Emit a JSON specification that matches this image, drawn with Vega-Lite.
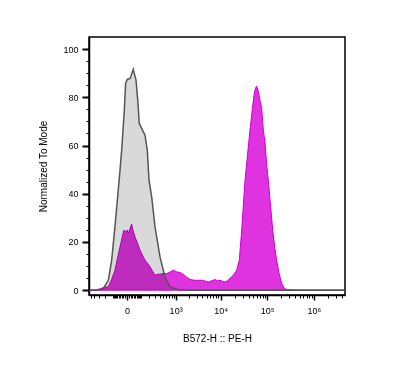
{
  "$schema": "https://vega.github.io/schema/vega-lite/v6.json",
  "width": 256,
  "height": 258,
  "autosize": {"type": "none"},
  "padding": {"left": 89, "top": 37, "right": 51, "bottom": 96},
  "background": "white",
  "config": {
    "view": {"stroke": "black", "strokeWidth": 1.5},
    "axis": {"labelFont": "Liberation Sans", "titleFont": "Liberation Sans", "labelColor": "black", "titleColor": "black", "tickColor": "black", "domainColor": "black", "grid": false, "titleFontWeight": "normal"}
  },
  "datasets": {
    "control": [
      {"x": -548, "v": 0}, {"x": -318, "v": 0.2}, {"x": -226, "v": 0.5}, {"x": -151, "v": 4.1}, {"x": -113, "v": 12.4},
      {"x": -81, "v": 26.3}, {"x": -54, "v": 41.5}, {"x": -41, "v": 49.8}, {"x": -30, "v": 58.1}, {"x": -14, "v": 74.7},
      {"x": -7, "v": 85.8}, {"x": 1.5, "v": 87.4}, {"x": 16, "v": 87.8}, {"x": 22, "v": 88.8}, {"x": 36, "v": 91.6},
      {"x": 56, "v": 87.1}, {"x": 70, "v": 78.8}, {"x": 83, "v": 69.2}, {"x": 106, "v": 67.1}, {"x": 143, "v": 64.3},
      {"x": 172, "v": 58.1}, {"x": 196, "v": 45.6}, {"x": 238, "v": 38.7}, {"x": 298, "v": 26.3}, {"x": 409, "v": 13.8},
      {"x": 551, "v": 5.5}, {"x": 733, "v": 1.4}, {"x": 1137, "v": 0.3}, {"x": 2135, "v": 0}, {"x": 4600000, "v": 0}
    ],
    "sample": [
      {"x": -548, "v": 0}, {"x": -385, "v": 0.1}, {"x": -279, "v": 0.5}, {"x": -211, "v": 1.2}, {"x": -151, "v": 1.4},
      {"x": -113, "v": 4.5}, {"x": -81, "v": 8.3}, {"x": -60, "v": 13.3}, {"x": -41, "v": 18}, {"x": -17, "v": 24.9},
      {"x": -10, "v": 24.2}, {"x": 1.5, "v": 24.9}, {"x": 6.6, "v": 23.5}, {"x": 26, "v": 27.4}, {"x": 34, "v": 24.9},
      {"x": 48, "v": 22.1}, {"x": 68, "v": 19.5}, {"x": 90, "v": 16.6}, {"x": 115, "v": 14.5}, {"x": 143, "v": 12.4},
      {"x": 175, "v": 11.2}, {"x": 211, "v": 9.7}, {"x": 252, "v": 7.9}, {"x": 298, "v": 6.2}, {"x": 350, "v": 6.6},
      {"x": 409, "v": 6.6}, {"x": 490, "v": 6.9}, {"x": 608, "v": 6.9}, {"x": 733, "v": 7.5}, {"x": 881, "v": 8.3},
      {"x": 1060, "v": 7.6}, {"x": 1264, "v": 7.3}, {"x": 1505, "v": 6.6}, {"x": 1799, "v": 5.4}, {"x": 2135, "v": 4.4},
      {"x": 2760, "v": 4.1}, {"x": 3560, "v": 4.1}, {"x": 4205, "v": 4.1}, {"x": 4700, "v": 3.7}, {"x": 5410, "v": 3.4},
      {"x": 6410, "v": 3.9}, {"x": 7560, "v": 4.4}, {"x": 8570, "v": 3.9}, {"x": 9710, "v": 4.1}, {"x": 10990, "v": 3.7},
      {"x": 12450, "v": 3.4}, {"x": 14100, "v": 3.9}, {"x": 15960, "v": 4.9}, {"x": 18800, "v": 6.2}, {"x": 22250, "v": 8.3},
      {"x": 25300, "v": 12.4}, {"x": 28500, "v": 24.9}, {"x": 33600, "v": 45.6}, {"x": 37960, "v": 56}, {"x": 42950, "v": 66.4},
      {"x": 47450, "v": 73.9}, {"x": 52370, "v": 80.9}, {"x": 56400, "v": 83.8}, {"x": 59860, "v": 84.6}, {"x": 63780, "v": 83},
      {"x": 70400, "v": 78.8}, {"x": 76580, "v": 75.4}, {"x": 82880, "v": 66.4}, {"x": 90100, "v": 61.5}, {"x": 98000, "v": 51.9},
      {"x": 106060, "v": 45.6}, {"x": 118200, "v": 35.3}, {"x": 131700, "v": 24.9}, {"x": 145400, "v": 17.8}, {"x": 160500, "v": 12.4},
      {"x": 179800, "v": 7.1}, {"x": 205200, "v": 2.8}, {"x": 230100, "v": 1.0}, {"x": 262900, "v": 0.2}, {"x": 506900, "v": 0},
      {"x": 4600000, "v": 0}
    ]
  },
  "layer": [
    {
      "data": {"name": "control"},
      "mark": {"type": "area", "color": "#d9d9d9", "interpolate": "linear"},
      "encoding": {
        "x": {"field": "x", "type": "quantitative",
          "scale": {"type": "symlog", "constant": 100, "domain": [-551, 4660000], "nice": false, "zero": false},
          "axis": {"orient": "bottom", "values": [0, 1000, 10000, 100000, 1000000],
            "labelExpr": "datum.value == 0 ? '0' : datum.value == 1000 ? '10³' : datum.value == 10000 ? '10⁴' : datum.value == 100000 ? '10⁵' : '10⁶'",
            "tickSize": 5, "tickWidth": 1.5, "domainWidth": 1.5, "labelFontSize": 9, "labelPadding": 6,
            "title": "B572-H :: PE-H", "titleFontSize": 10, "titlePadding": 18}},
        "y": {"field": "v", "type": "quantitative",
          "scale": {"domain": [-2, 105], "nice": false, "zero": false},
          "axis": {"orient": "left", "values": [0, 20, 40, 60, 80, 100], "tickSize": 7, "tickWidth": 2, "domainWidth": 1.5,
            "labelFontSize": 9, "labelPadding": 4, "title": "Normalized To Mode", "titleFontSize": 10, "titlePadding": 14}}
      }
    },
    {
      "data": {"name": "sample"},
      "mark": {"type": "area", "color": "#e033e0", "interpolate": "linear", "blend": "multiply", "stroke": "#cc00cc", "strokeWidth": 1},
      "encoding": {
        "x": {"field": "x", "type": "quantitative",
          "axis": {"orient": "bottom", "values": [-500, -400, -300, -200, -100, -90, -80, -70, -60, -50, -40, -30, -20, -10, 10, 20, 30, 40, 50, 60, 70, 80, 90, 100, 200, 300, 400, 500, 600, 700, 800, 900, 2000, 3000, 4000, 5000, 6000, 7000, 8000, 9000, 20000, 30000, 40000, 50000, 60000, 70000, 80000, 90000, 200000, 300000, 400000, 500000, 600000, 700000, 800000, 900000, 2000000, 3000000, 4000000],
            "labels": false, "domain": false, "tickSize": 3, "tickWidth": 1, "title": null}},
        "y": {"field": "v", "type": "quantitative",
          "axis": {"orient": "left", "values": [5, 10, 15, 25, 30, 35, 45, 50, 55, 65, 70, 75, 85, 90, 95], "labels": false, "domain": false, "tickSize": 3, "tickWidth": 1, "title": null}}
      }
    },
    {
      "data": {"name": "control"},
      "mark": {"type": "line", "color": "#555555", "strokeWidth": 1.5, "interpolate": "linear"},
      "encoding": {
        "x": {"field": "x", "type": "quantitative", "axis": null},
        "y": {"field": "v", "type": "quantitative", "axis": null}
      }
    }
  ],
  "resolve": {"axis": {"x": "independent", "y": "independent"}}
}
